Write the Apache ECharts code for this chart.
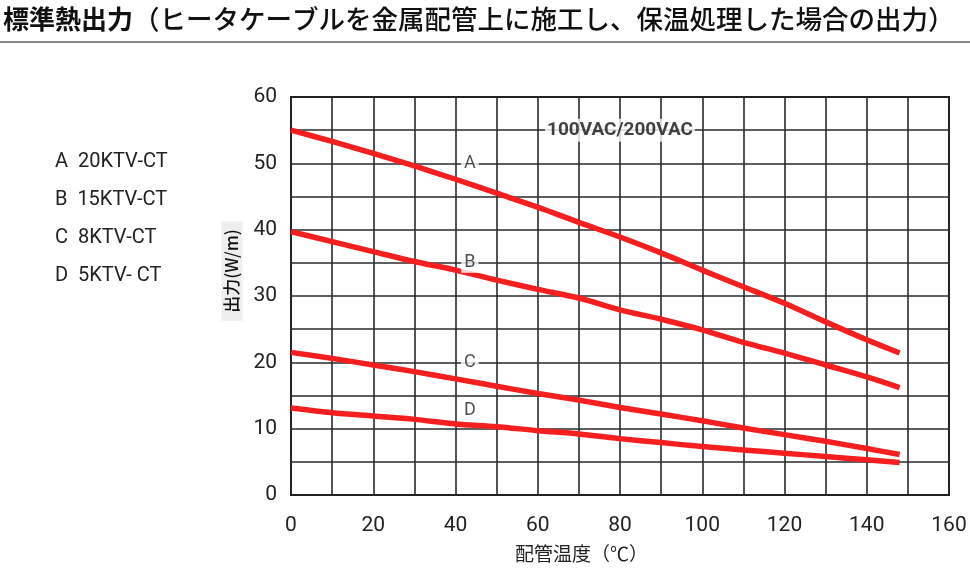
<!DOCTYPE html>
<html>
<head>
<meta charset="utf-8">
<script src="https://cdn.jsdelivr.net/npm/echarts@6/dist/echarts.min.js"></script>
<style>
  html,body{margin:0;padding:0;background:#fff;}
  #chart{width:970px;height:580px;}
</style>
</head>
<body>
<div id="chart"></div>
<script>
// 配管温度 (℃)
const temps = [0, 10, 20, 30, 40, 50, 60, 70, 80, 90, 100, 110, 120, 130, 140, 148];
// 出力 (W/m)
const outA = [55.0, 53.3, 51.5, 49.6, 47.6, 45.5, 43.4, 41.1, 38.9, 36.5, 33.9, 31.4, 28.9, 26.1, 23.4, 21.4];
const outB = [39.7, 38.2, 36.7, 35.2, 33.9, 32.4, 31.0, 29.7, 27.9, 26.5, 24.9, 23.0, 21.4, 19.6, 17.8, 16.2];
const outC = [21.5, 20.6, 19.6, 18.6, 17.5, 16.4, 15.3, 14.3, 13.2, 12.2, 11.2, 10.1, 9.1, 8.1, 7.0, 6.1];
const outD = [13.1, 12.4, 11.9, 11.4, 10.7, 10.3, 9.7, 9.2, 8.5, 7.9, 7.3, 6.8, 6.3, 5.8, 5.3, 4.9];

const curveNames = ['A', 'B', 'C', 'D'];
const models = ['20KTV-CT', '15KTV-CT', '8KTV-CT', '5KTV- CT'];
// where the curve letters sit on the chart
const tagPos = [[43.5, 50], [43.5, 35], [43.5, 20], [43.5, 12.7]];
const voltageText = '100VAC/200VAC';
const voltagePos = [80, 55];

const titleBold = '標準熱出力';
const titleRest = '（ヒータケーブルを金属配管上に施工し、保温処理した場合の出力）';

const xTicks = [0, 20, 40, 60, 80, 100, 120, 140, 160];
const yTicks = [0, 10, 20, 30, 40, 50, 60];

const numFont = '"Liberation Sans Narrow", "Roboto", sans-serif';
const jpFont = '"Noto Sans CJK JP", sans-serif';

let chart = echarts.init(document.getElementById('chart'));

const lines = [outA, outB, outC, outD].map((vals, i) => ({
    name: curveNames[i],
    type: 'line',
    data: temps.map((t, j) => [t, vals[j]]),
    smooth: 0.3,
    symbol: 'none',
    lineStyle: { color: '#f51f1f', width: 5.5 },
    z: 3
}));

let option = {
    animation: false,
    grid: { left: 291, right: 21, top: 97, bottom: 85, show: true, borderColor: '#111', borderWidth: 2 },
    xAxis: {
        type: 'value',
        min: 0, max: 160, interval: 10,
        axisLine: { show: false },
        axisTick: { show: false },
        axisLabel: {
            color: '#222', fontSize: 21, fontFamily: numFont, margin: 20,
            formatter: v => xTicks.indexOf(v) >= 0 ? String(v) : ''
        },
        splitLine: { show: true, lineStyle: { color: '#2a2a2a', width: 1.6 } }
    },
    yAxis: {
        type: 'value',
        min: 0, max: 60, interval: 5,
        axisLine: { show: false },
        axisTick: { show: false },
        axisLabel: {
            color: '#222', fontSize: 21, fontFamily: numFont, margin: 14,
            formatter: v => yTicks.indexOf(v) >= 0 ? String(v) : ''
        },
        splitLine: { show: true, lineStyle: { color: '#2a2a2a', width: 1.6 } }
    },
    series: lines.concat([
        {
            type: 'scatter',
            symbolSize: 0,
            silent: true,
            z: 5,
            data: tagPos.map((p, i) => ({ value: p, name: curveNames[i] })),
            label: {
                show: true, position: 'inside',
                formatter: p => p.name,
                color: '#222', fontSize: 18, fontFamily: numFont,
                backgroundColor: '#fff', padding: [1, 3]
            }
        },
        {
            type: 'scatter',
            symbolSize: 0,
            silent: true,
            z: 5,
            data: [{ value: voltagePos, name: voltageText }],
            label: {
                show: true, position: 'inside',
                formatter: p => p.name,
                color: '#111', fontSize: 19, fontWeight: 'bold', fontFamily: numFont,
                backgroundColor: '#fff', padding: [2, 2]
            }
        }
    ]),
    graphic: [
        {
            type: 'text', left: 3, top: 6,
            style: {
                text: '{b|' + titleBold + '}{n|' + titleRest + '}',
                rich: {
                    b: { fontSize: 26, fontWeight: 'bold', fontFamily: jpFont, fill: '#111' },
                    n: { fontSize: 26.5, fontWeight: 500, fontFamily: jpFont, fill: '#111' }
                }
            }
        },
        {
            type: 'rect', shape: { x: 0, y: 41, width: 970, height: 2 },
            style: { fill: '#888' }
        },
        {
            type: 'text', x: 232, y: 271, rotation: Math.PI / 2,
            style: {
                text: '出力(W/m)', fill: '#111', fontSize: 17, fontWeight: 500,
                fontFamily: jpFont, align: 'center', verticalAlign: 'middle',
                backgroundColor: '#eee', padding: [2, 8]
            }
        },
        {
            type: 'text', left: 515, top: 544,
            style: { text: '配管温度（℃）', fill: '#222', fontSize: 19, fontFamily: jpFont }
        }
    ].concat(curveNames.map((c, i) => ({
        type: 'text', left: 55, top: 152 + i * 38,
        style: {
            text: c + '  ' + models[i], fill: '#222', fontSize: 20, fontFamily: numFont
        }
    })))
};
chart.setOption(option);
</script>
</body>
</html>
